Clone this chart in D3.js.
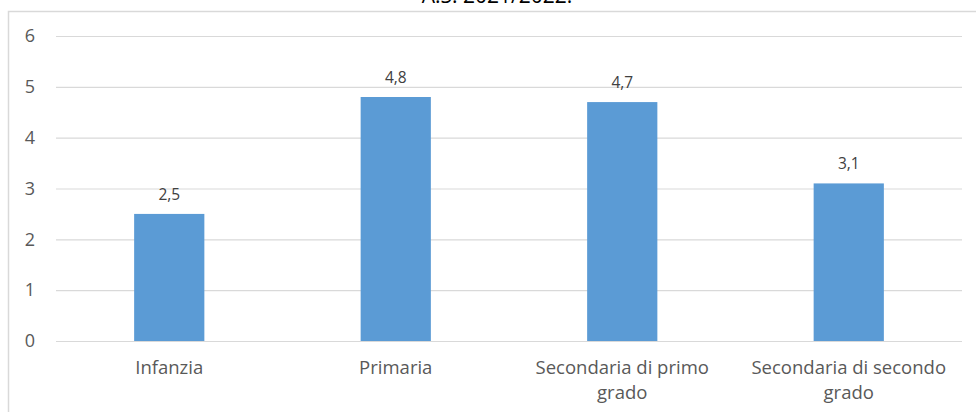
<!DOCTYPE html>
<html>
<head>
<meta charset="utf-8">
<script src="https://cdn.jsdelivr.net/npm/d3@7"></script>
<style>
  html, body { margin: 0; padding: 0; background: #fff; }
  svg { display: block; }
  text { font-family: "Open Sans", sans-serif; }
</style>
</head>
<body>
<svg id="chart" width="976" height="412"></svg>
<script>
const categories = [["Infanzia"], ["Primaria"], ["Secondaria di primo", "grado"], ["Secondaria di secondo", "grado"]];
const values = [2.5, 4.8, 4.7, 3.1];
const valueLabels = ["2,5", "4,8", "4,7", "3,1"];
const yTicks = [0, 1, 2, 3, 4, 5, 6];
const titleText = "A.S. 2021/2022.";

(function () {
const svg = d3.select("#chart");
const W = 976, H = 412;
const mLeft = 56, mRight = 962, mTop = 36, mBottom = 341;

// outer frame
svg.append("rect").attr("x", 8.5).attr("y", 11.5).attr("width", W + 10).attr("height", H + 10)
  .attr("fill", "none").attr("stroke", "#d9d9d9").attr("stroke-width", 1.5);

// title (its top is cropped in the reference)
svg.append("text").attr("x", 497).attr("y", 3).attr("text-anchor", "middle")
  .attr("font-size", 21).attr("fill", "#000").text(titleText);

const x = d3.scaleBand().domain(d3.range(categories.length)).range([mLeft, mRight]).padding(0);
const y = d3.scaleLinear().domain([0, 6]).range([mBottom, mTop]);

// gridlines
const yAxis = d3.axisLeft(y).tickValues(yTicks).tickSize(-(mRight - mLeft)).tickFormat(d3.format("d"));
const gy = svg.append("g").attr("transform", `translate(${mLeft},0)`).call(yAxis);
gy.select(".domain").remove();
gy.selectAll(".tick line").attr("stroke", "#d9d9d9").attr("stroke-width", 1.2);
gy.selectAll(".tick text").attr("x", -21).attr("font-size", 18).attr("fill", "#595959")
  .attr("font-family", "Open Sans, sans-serif");

const bw = x.step() * 0.31;
svg.selectAll("rect.bar").data(values).enter().append("rect").attr("class", "bar")
  .attr("x", (d, i) => x(i) + x.bandwidth() / 2 - bw / 2)
  .attr("width", bw)
  .attr("y", d => y(d))
  .attr("height", d => y(0) - y(d))
  .attr("fill", "#5b9bd5");

// axis baseline
svg.append("line").attr("x1", mLeft).attr("x2", mRight).attr("y1", y(0) + 0.5).attr("y2", y(0) + 0.5)
  .attr("stroke", "#d9d9d9").attr("stroke-width", 1.2);

// value labels
svg.selectAll("text.val").data(values).enter().append("text").attr("class", "val")
  .attr("x", (d, i) => x(i) + x.bandwidth() / 2)
  .attr("y", d => y(d) - 14)
  .attr("text-anchor", "middle").attr("font-size", 15.5).attr("fill", "#404040")
  .text((d, i) => valueLabels[i]);

// category labels
const cat = svg.selectAll("text.cat").data(categories).enter().append("text").attr("class", "cat")
  .attr("x", (d, i) => x(i) + x.bandwidth() / 2)
  .attr("y", 374)
  .attr("text-anchor", "middle").attr("font-size", 18.5).attr("fill", "#595959");
cat.selectAll("tspan").data(d => d).enter().append("tspan")
  .attr("x", function () { return d3.select(this.parentNode).attr("x"); })
  .attr("dy", (d, j) => j === 0 ? 0 : 25)
  .text(d => d);
})();
</script>
</body>
</html>
